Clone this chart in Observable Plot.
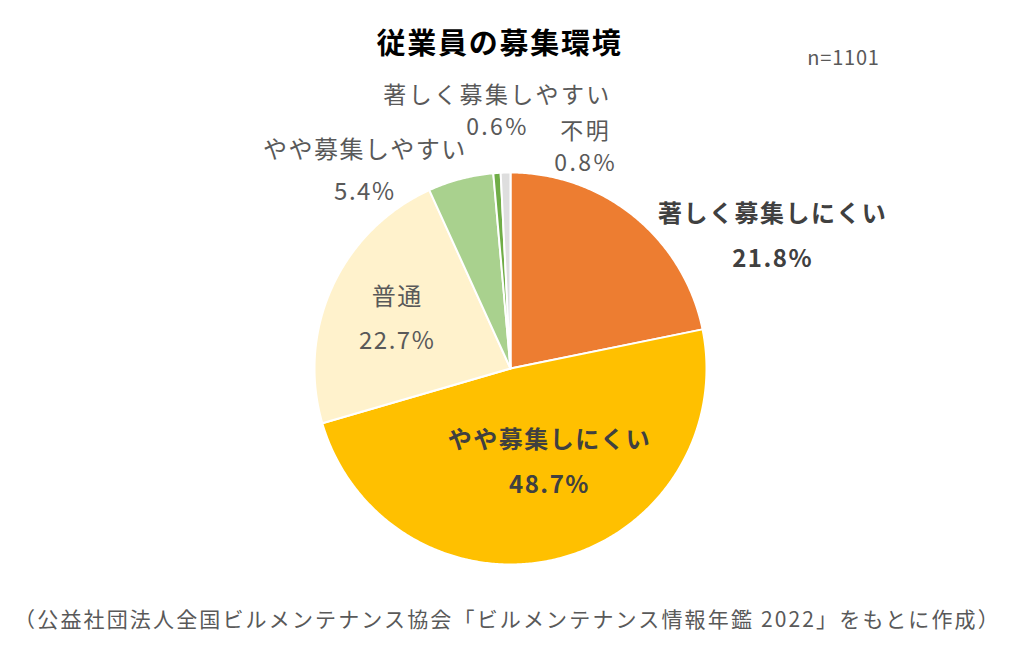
<!DOCTYPE html>
<html><head><meta charset="utf-8">
<script src="https://cdn.jsdelivr.net/npm/d3@7"></script>
<script src="https://cdn.jsdelivr.net/npm/@observablehq/plot@0.6"></script>
<style>
body{margin:0;background:#fff;}
#chart svg{display:block;font-family:"Noto Sans CJK JP","Noto Sans",sans-serif;}
</style></head>
<body><div id="chart"></div>
<script>
// ---- data ----
const categories = ["著しく募集しにくい", "やや募集しにくい", "普通", "やや募集しやすい", "著しく募集しやすい", "不明"];
const shares = [21.8, 48.7, 22.7, 5.4, 0.6, 0.8];
const pctLabels = ["21.8%", "48.7%", "22.7%", "5.4%", "0.6%", "0.8%"];
const title = "従業員の募集環境";
const sampleNote = "n=1101";
const source = "（公益社団法人全国ビルメンテナンス協会「ビルメンテナンス情報年鑑 2022」をもとに作成）";

// ---- style / layout ----
const colors = ["#ED7D31", "#FFC000", "#FFF2CC", "#A9D18E", "#70AD47", "#DEDEDE"];
// label placement: angle (deg clockwise from top), distance (in radii), line gap (px), bold
const labelLayout = [
  {angle: 63.3, dist: 1.497, gap: 45, bold: true, size: 24},
  {angle: 157.5, dist: 0.52, gap: 45, bold: true, size: 24},
  {angle: 293.4, dist: 0.63, gap: 44, bold: false, size: 24},
  {angle: 323.5, dist: 1.25, gap: 42, bold: false, size: 24},
  {angle: 357.1, dist: 1.31, gap: 32, bold: false, size: 23},
  {angle: 18.8, dist: 1.19, gap: 32, bold: false, size: 23}
];

// ---- build slice outlines from the data ----
const total = d3.sum(shares);
const pts = [];
let cum = 0;
categories.forEach((c, i) => {
  const a0 = cum / total * 2 * Math.PI;
  cum += shares[i];
  const a1 = cum / total * 2 * Math.PI;
  const n = Math.max(2, Math.ceil((a1 - a0) / (Math.PI / 360)));
  pts.push({cat: c, x: 0, y: 0});
  for (let k = 0; k <= n; k++) {
    const a = a0 + (a1 - a0) * k / n;
    pts.push({cat: c, x: Math.sin(a), y: Math.cos(a)});
  }
  pts.push({cat: c, x: 0, y: 0});
});

const labelMarks = categories.flatMap((c, i) => {
  const L = labelLayout[i];
  const a = L.angle * Math.PI / 180;
  const d = [{x: L.dist * Math.sin(a), y: L.dist * Math.cos(a), name: c, pct: pctLabels[i]}];
  const common = {
    x: "x", y: "y", fontSize: L.size, textAnchor: "middle",
    fill: L.bold ? "#404040" : "#595959",
    fontWeight: L.bold ? "bold" : "normal"
  };
  return [
    Plot.text(d, {...common, text: "name", dy: -L.gap / 2}),
    Plot.text(d, {...common, text: "pct", dy: L.gap / 2})
  ];
});

const R = 196, CX = 510, CY = 368;
const chart = Plot.plot({
  width: 1024,
  height: 647,
  margin: 0,
  x: {domain: [-1, 1], range: [CX - R, CX + R], axis: null},
  y: {domain: [-1, 1], range: [CY + R, CY - R], axis: null},
  color: {domain: categories, range: colors},
  marks: [
    Plot.line(pts, {x: "x", y: "y", z: "cat", fill: "cat", stroke: "white", strokeWidth: 2, strokeLinejoin: "round", curve: "linear"}),
    ...labelMarks,
    Plot.text([title], {frameAnchor: "top-left", dx: 499, dy: 33, textAnchor: "middle", fontSize: 29, fontWeight: "bold", fill: "#000"}),
    Plot.text([sampleNote], {frameAnchor: "top-left", dx: 843, dy: 50, textAnchor: "middle", fontSize: 20, fill: "#595959"}),
    Plot.text([source], {frameAnchor: "top-left", dx: 507, dy: 612, textAnchor: "middle", fontSize: 21, fill: "#595959"})
  ]
});
document.getElementById("chart").append(chart);
// letter spacing tweaks
chart.querySelectorAll("text").forEach(t => {
  const fs = parseFloat(t.getAttribute("font-size") || t.parentNode.getAttribute("font-size") || 0);
  let ls = 1.5;
  if (fs >= 28) ls = 1.75;
  else if (fs === 21) ls = 2.15;
  else if (fs === 20) ls = 0.8;
  else if (fs === 23) ls = 2.4;
  t.style.letterSpacing = ls + "px";
});
</script>
</body></html>
